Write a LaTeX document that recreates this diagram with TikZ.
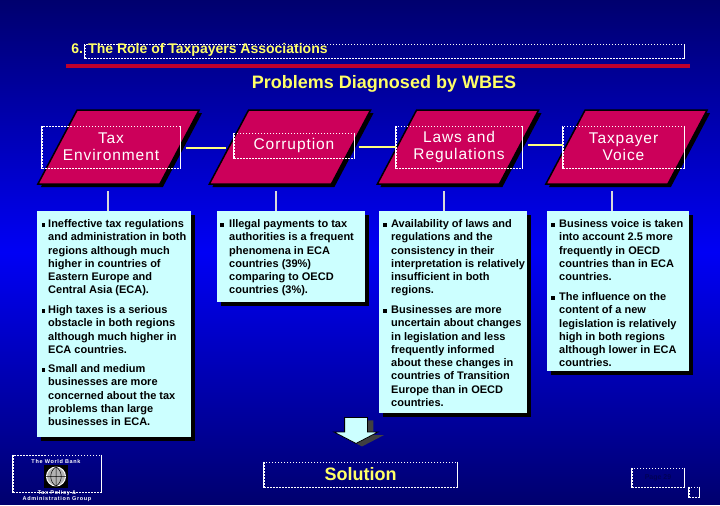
\documentclass[tikz,border=0pt]{standalone}
\usepackage{fontspec}
\setmainfont{Liberation Sans}
\usetikzlibrary{positioning,shadows,shapes.arrows}
\definecolor{wbnavy}{RGB}{0,0,110}
\definecolor{wbblue}{RGB}{0,0,245}
\definecolor{wbcrimson}{RGB}{204,0,90}
\definecolor{wbred}{RGB}{190,0,45}
\definecolor{wbyellow}{RGB}{255,255,102}
\definecolor{wbcyan}{RGB}{204,255,255}

\begin{document}
\begin{tikzpicture}[
    x=1pt,y=-1pt,
    sideline/.style={draw=white,line width=.7pt,solid},
    spot/.style={rectangle,draw=white,line width=1pt,dash pattern=on 1.5pt off 1.5pt,inner sep=0pt,
      append after command={(\tikzlastnode.north west) edge[sideline] (\tikzlastnode.south west)
        (\tikzlastnode.north east) edge[sideline] (\tikzlastnode.south east)}},
    para/.style={rectangle,xslant=0.53,transform shape,fill=wbcrimson,draw=black,line width=1.5pt,
      minimum width=122pt,minimum height=74pt,inner sep=0pt,
      drop shadow={shadow xshift=3pt,shadow yshift=-3pt,fill=black,opacity=1}},
    headtext/.style={text=white,align=center,
      font=\fontsize{15.5}{17.2}\selectfont\addfontfeature{LetterSpace=6}},
    bodybox/.style={rectangle,fill=wbcyan,inner sep=0pt,
      drop shadow={shadow xshift=4pt,shadow yshift=-4pt,fill=black,opacity=1}},
    bodytext/.style={anchor=north west,inner sep=0pt,align=left,text=black,
      font=\bfseries\fontsize{11}{13.25}\selectfont},
    bulletmark/.style={rectangle,fill=black,minimum size=3.5pt,inner sep=0pt},
    joinline/.style={draw=wbyellow!85!white,line width=1.3pt},
    stem/.style={draw=white!85!black,line width=1.8pt},
    logotext/.style={text=white,align=center,
      font=\bfseries\fontsize{5.5}{6.3}\selectfont\addfontfeature{LetterSpace=12}}
  ]
    \shade[top color=wbnavy,bottom color=wbnavy,middle color=wbblue] (0,0) rectangle (720,504);

    % title
    \node[spot,minimum width=599pt,minimum height=14pt] (titlebox) at (384.5,51.5) {};
    \node[text=wbyellow,font=\bfseries\fontsize{14}{16}\selectfont] (title) at (199.5,50) {6. The Role of Taxpayers Associations};
    \fill[wbred] (66,64) rectangle (690,68);
    \node[text=wbyellow,font=\bfseries\fontsize{18}{20}\selectfont] (problems) at (384,84) {Problems Diagnosed by WBES};

    % heads
    \node[para] (tax) at (118.5,147) {};
    \node[para] (corrupt) at (290,147) {};
    \node[para] (laws) at (458,147) {};
    \node[para] (voice) at (626.5,147) {};
    \node[spot,minimum width=138pt,minimum height=42pt,headtext] (taxhead) at (111,147) {Tax\\Environment};
    \node[spot,minimum width=120pt,minimum height=25pt,headtext] (corrupthead) at (294,145.5) {Corruption};
    \node[spot,minimum width=126pt,minimum height=42pt,headtext] (lawshead) at (459,147) {Laws and\\Regulations};
    \node[spot,minimum width=121pt,minimum height=42pt,headtext] (voicehead) at (623.5,147) {Taxpayer\\Voice};

    \draw[joinline] ([xshift=5pt,yshift=-1pt]taxhead.east) -- ([xshift=-8pt,yshift=-2.5pt]corrupthead.west);
    \draw[joinline] ([xshift=4pt,yshift=-1.5pt]corrupthead.east) -- ([yshift=0pt]lawshead.west);
    \draw[joinline] ([xshift=5pt,yshift=2pt]lawshead.east) -- ([yshift=2pt]voicehead.west);

    % bodies
    \node[bodybox,minimum width=154pt,minimum height=226pt] (taxbody) at (114,324) {};
    \node[bodybox,minimum width=148pt,minimum height=91pt] (corruptbody) at (291,256.5) {};
    \node[bodybox,minimum width=148pt,minimum height=202pt] (lawsbody) at (453,312) {};
    \node[bodybox,minimum width=142pt,minimum height=160pt] (voicebody) at (618,291) {};

    \coordinate (taxstem) at (108,191);
    \coordinate (corruptstem) at (276,191);
    \coordinate (lawsstem) at (444,191);
    \coordinate (voicestem) at (612,191);
    \draw[stem] (taxstem) -- (taxstem |- taxbody.north);
    \draw[stem] (corruptstem) -- (corruptstem |- corruptbody.north);
    \draw[stem] (lawsstem) -- (lawsstem |- lawsbody.north);
    \draw[stem] (voicestem) -- (voicestem |- voicebody.north);

    \node[bodytext] (taxa) at (48,219.5) {Ineffective tax regulations\\and administration in both\\regions although much\\higher in countries of\\Eastern Europe and\\Central Asia (ECA).};
    \node[bodytext] (taxb) at (48,305.5) {High taxes is a serious\\obstacle in both regions\\although much higher in\\ECA countries.};
    \node[bodytext] (taxc) at (48,364.5) {Small and medium\\businesses are more\\concerned about the tax\\problems than large\\businesses in ECA.};
    \node[bodytext] (corrupta) at (229,219.5) {Illegal payments to tax\\authorities is a frequent\\phenomena in ECA\\countries (39\%)\\comparing to OECD\\countries (3\%).};
    \node[bodytext] (lawsa) at (391,219.5) {Availability of laws and\\regulations and the\\consistency in their\\interpretation is relatively\\insufficient in both\\regions.};
    \node[bodytext] (lawsb) at (391,305.5) {Businesses are more\\uncertain about changes\\in legislation and less\\frequently informed\\about these changes in\\countries of Transition\\Europe than in OECD\\countries.};
    \node[bodytext] (voicea) at (559,219.5) {Business voice is taken\\into account 2.5 more\\frequently in OECD\\countries than in ECA\\countries.};
    \node[bodytext] (voiceb) at (559,292.5) {The influence on the\\content of a new\\legislation is relatively\\high in both regions\\although lower in ECA\\countries.};

    \node[bulletmark] (taxmarka) at (43.5,225) {};
    \node[bulletmark] (taxmarkb) at (43.5,311) {};
    \node[bulletmark] (taxmarkc) at (43.5,370) {};
    \node[bulletmark] (corruptmarka) at (222,225) {};
    \node[bulletmark] (lawsmarka) at (385,225) {};
    \node[bulletmark] (lawsmarkb) at (385,311) {};
    \node[bulletmark] (voicemarka) at (553,225) {};
    \node[bulletmark] (voicemarkb) at (553,298) {};

    % solution
    \node[single arrow,shape border rotate=270,single arrow head extend=10.5pt,single arrow tip angle=125,single arrow head indent=0pt,
      minimum height=26pt,inner xsep=11pt,inner ysep=0pt,fill=wbcyan,draw=black,line width=.8pt,
      drop shadow={shadow xshift=6pt,shadow yshift=-3pt,fill=black!75!white,opacity=1}] (downarrow) at (356,427.5) {};
    \node[spot,minimum width=193pt,minimum height=25pt,text=wbyellow,font=\bfseries\fontsize{18}{20}\selectfont] (solution) at (360.5,474.5) {Solution};

    % logo
    \node[spot,minimum width=88pt,minimum height=37pt] (logobox) at (57,473.5) {};
    \node[logotext] (bank) at (56,462) {The World Bank};
    \node[rectangle,fill=black,minimum width=24pt,minimum height=23pt,inner sep=0pt] (globeback) at (56,476.5) {};
    \node[circle,draw=white,fill=white!70!black,line width=1pt,minimum size=19pt,inner sep=0pt] (globe) at (56,476.5) {};
    \draw[black,line width=.5pt] (globe.west) -- (globe.east) (globe.north) -- (globe.south)
      (globe.north) .. controls (49,472) and (49,481) .. (globe.south)
      (globe.north) .. controls (63,472) and (63,481) .. (globe.south);
    \node[logotext] (group) at (57,496) {Tax Policy \&\\Administration Group};

    % page
    \node[spot,minimum width=52pt,minimum height=19pt,text=wbnavy!80!black,font=\bfseries\fontsize{7}{8}\selectfont] (page) at (658,477.5) {Page 29};
    \node[spot,minimum width=10pt,minimum height=10pt] (corner) at (694,492) {};
  \end{tikzpicture}
\end{document}
